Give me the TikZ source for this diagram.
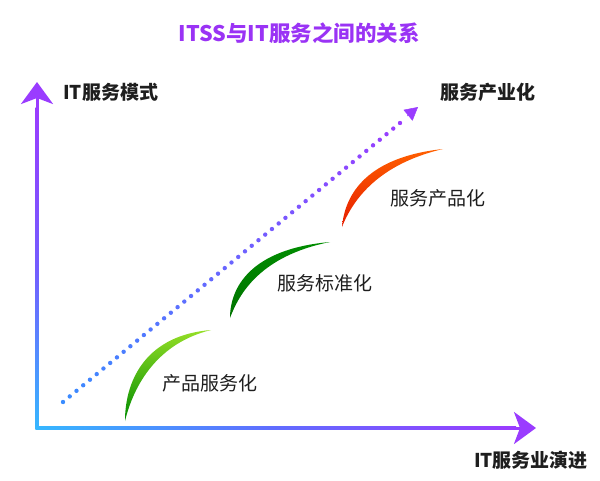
\documentclass[tikz,border=0pt]{standalone}
\usepackage{fontspec}
\setmainfont{Noto Sans CJK SC}
\usetikzlibrary{arrows.meta,calc}
\definecolor{cyanax}{HTML}{36B7FF}
\definecolor{blueax}{HTML}{3A8CFF}
\definecolor{purpax}{HTML}{9A3CFF}
\definecolor{titlepurp}{HTML}{9A33F5}
\definecolor{txt}{HTML}{1E1E1E}
\begin{document}
\begin{tikzpicture}[>=stealth,line join=round,line cap=round,x=1pt,y=-1pt,
  lbl/.style={text=txt,inner sep=0pt,font=\fontsize{19}{19}\selectfont},
  axlbl/.style={lbl,font=\fontsize{19}{19}\selectfont\bfseries}]
\useasboundingbox (0,0) rectangle (600,480);
\def\lw{1.5}
\path
(37,428) coordinate (O)
(536,428) coordinate (X)
(37,82) coordinate (Y)
(63,402) coordinate (D0)
(400,123) coordinate (Dn)
(418,107) coordinate (D1)
;
%
% axes
\shade[left color=cyanax,right color=purpax,middle color=blueax!60!purpax]
  ($(O)+(-\lw,-\lw)$) rectangle ($(X)+(-20,\lw)$);
\shade[bottom color=cyanax,top color=purpax,middle color=blueax!40!purpax]
  ($(O)+(-\lw,\lw)$) rectangle ($(Y)+(\lw,25)$);
\draw[purpax,line width=3pt,-{Stealth[length=22pt,width=32pt,inset=6pt]}] ($(X)+(-35,0)$)--(X);
\draw[purpax,line width=3pt,-{Stealth[length=22pt,width=32pt,inset=6pt]}] ($(Y)+(0,35)$)--(Y);
%
% dotted trend
\foreach \i in {0,...,50}{
  \pgfmathtruncatemacro\p{2*\i}
  \fill[purpax!\p!blueax] ($(D0)!\i/50!(Dn)$) circle (2.2);
}
\draw[purpax,line width=0.5pt,-{Triangle[length=13pt,width=14pt]}] ($(D0)!0.97!(D1)$)--(D1);
%
% stages
\shade[top color=green!40!yellow!85!black!85,bottom color=green!55!black]
  (125,421) .. controls (125,378) and (148,335) .. (211,330)
  .. controls (158,343) and (134,384) .. (125,421)--cycle;
\shade[top color=green!55!black,bottom color=green!45!black]
  (230,318) .. controls (230,288) and (250,249) .. (330,242)
  .. controls (260,256) and (239,294) .. (230,318)--cycle;
\shade[top color=orange!75!red,bottom color=red!75!orange!90!black]
  (342,227) .. controls (345,193) and (368,157) .. (443,149)
  .. controls (379,164) and (353,199) .. (342,227)--cycle;
%
\node[lbl] (s1) at (210,383) {产品服务化};
\node[lbl] (s2) at (325,283) {服务标准化};
\node[lbl] (s3) at (438,198) {服务产品化};
\node[axlbl,anchor=west] (ylab) at (63,92) {IT服务模式};
\node[axlbl] (top) at (488,92) {服务产业化};
\node[axlbl] (xlab) at (531,460) {IT服务业演进};
\node[inner sep=0pt,text=titlepurp,font=\fontsize{21.5}{21.5}\selectfont\bfseries] (title) at (299,33) {ITSS与IT服务之间的关系};
%	\node at (300,300) {watermark};
\end{tikzpicture}
\end{document}
